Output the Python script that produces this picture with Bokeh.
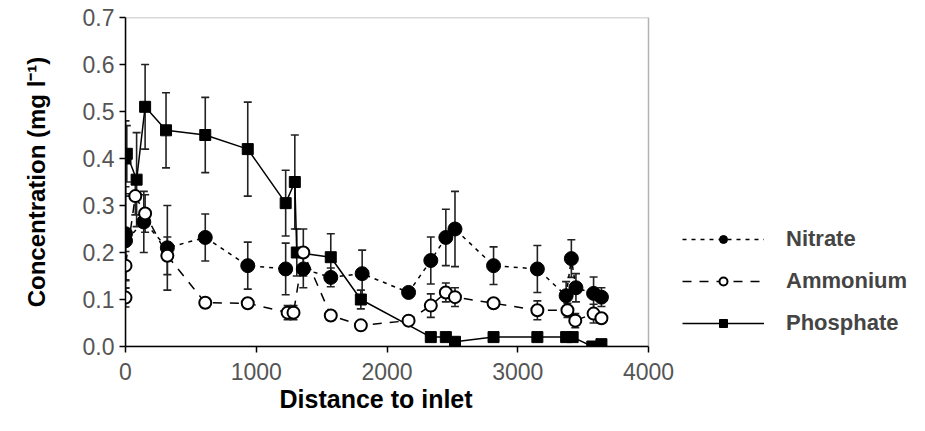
from bokeh.plotting import figure
from bokeh.models import (ColumnDataSource, Whisker, TeeHead, Legend, LegendItem,
                          Range1d, FixedTicker, NumeralTickFormatter, BoxAnnotation, Title)
from bokeh.embed import file_html
from bokeh.resources import INLINE

# ---------------- data ----------------
nitrate_x = [0, 0, 140, 320, 610, 935, 1225, 1360, 1570, 1810, 2165, 2335, 2450, 2520,
             2815, 3150, 3370, 3410, 3445, 3580, 3640]
nitrate_y = [0.24, 0.225, 0.265, 0.21, 0.232, 0.172, 0.165, 0.165, 0.147, 0.155, 0.115,
             0.183, 0.232, 0.25, 0.172, 0.165, 0.108, 0.187, 0.125, 0.113, 0.105]
nitrate_err = [0.10, 0.10, 0.065, 0.09, 0.05, 0.05, 0.055, 0.04, 0.02, 0.05, 0.01,
               0.05, 0.06, 0.08, 0.04, 0.05, 0.03, 0.04, 0.03, 0.035, 0.02]

ammonium_x = [0, 0, 75, 150, 320, 610, 935, 1240, 1285, 1360, 1570, 1800, 2165, 2335,
              2450, 2520, 2815, 3150, 3380, 3440, 3580, 3640]
ammonium_y = [0.104, 0.172, 0.32, 0.283, 0.193, 0.093, 0.092, 0.072, 0.072, 0.20, 0.066,
              0.045, 0.055, 0.087, 0.115, 0.105, 0.092, 0.077, 0.077, 0.055, 0.07, 0.06]
ammonium_err = [0.02, 0.03, 0.04, 0.04, 0.04, 0.01, 0.01, 0.015, 0.015, 0.05, 0.005,
                0.005, 0.01, 0.025, 0.02, 0.02, 0.005, 0.02, 0.015, 0.015, 0.02, 0.01]

phosphate_x = [0, 10, 85, 150, 310, 610, 935, 1225, 1295, 1310, 1570, 1800, 2335, 2450,
               2520, 2815, 3150, 3370, 3420, 3570, 3640]
phosphate_y = [0.40, 0.41, 0.355, 0.51, 0.46, 0.45, 0.42, 0.305, 0.35, 0.20, 0.19, 0.10,
               0.02, 0.02, 0.01, 0.02, 0.02, 0.02, 0.02, 0.0, 0.005]
phosphate_err = [0.08, 0.06, 0.10, 0.09, 0.08, 0.08, 0.10, 0.07, 0.10, 0.05, 0.05, 0.02,
                 0.005, 0.005, 0.005, 0.005, 0.005, 0.005, 0.005, 0.005, 0.005]

x_ticks = [0, 1000, 2000, 3000, 4000]
y_ticks = [0.0, 0.1, 0.2, 0.3, 0.4, 0.5, 0.6, 0.7]
series_labels = ["Nitrate", "Ammonium", "Phosphate"]
x_title = "Distance to inlet"
y_title = "Concentration (mg l\u207b\u00b9)"

X_MIN, X_MAX = 0, 4000
Y_MIN, Y_MAX = 0.0, 0.7

# ---------------- layout (pixels) ----------------
W, H = 909, 415
LEFT, TOP, BOTTOM = 125, 17, 69
PLOT_PX = 523                       # width of the boxed plot area
FRAME_PX = W - LEFT                 # frame extends under the legend
x_end = X_MAX * FRAME_PX / PLOT_PX

p = figure(width=W, height=H, output_backend="svg", toolbar_location=None,
           x_range=Range1d(X_MIN, x_end), y_range=Range1d(Y_MIN, Y_MAX),
           min_border_left=LEFT, min_border_right=0, min_border_top=TOP,
           min_border_bottom=BOTTOM)
p.xgrid.visible = False
p.ygrid.visible = False
p.outline_line_color = None
p.background_fill_color = "white"
p.border_fill_color = "white"

# box around the data area
p.add_layout(BoxAnnotation(left=X_MIN, right=X_MAX, bottom=Y_MIN, top=Y_MAX,
                           fill_alpha=0, line_color="black", line_width=1.5,
                           level="underlay"))

p.xaxis.ticker = FixedTicker(ticks=x_ticks)
p.xaxis.bounds = (X_MIN, X_MAX)
p.yaxis.ticker = FixedTicker(ticks=y_ticks)
p.yaxis.formatter = NumeralTickFormatter(format="0.0")
for ax in (p.xaxis, p.yaxis):
    ax.minor_tick_line_color = None
    ax.major_tick_in = 0
    ax.major_tick_out = 6
    ax.major_tick_line_width = 1.5
    ax.axis_line_width = 1.5
    ax.axis_line_color = "black"
    ax.major_tick_line_color = "black"
    ax.major_label_text_font = "Liberation Sans"
    ax.major_label_text_font_size = "23px"
    ax.major_label_text_color = "#555555"
    ax.axis_label_text_font = "Liberation Sans"
    ax.axis_label_text_font_style = "bold"
    ax.axis_label_text_color = "black"

p.yaxis.axis_label = y_title
p.yaxis.axis_label_text_font_size = "24px"
p.xaxis.major_label_standoff = 10
p.yaxis.major_label_standoff = 5
p.yaxis.axis_label_standoff = 30

# x-axis title, centred under the boxed area (not the whole frame)
p.add_layout(Title(text=x_title, align="left", offset=154, standoff=0,
                   text_font="Liberation Sans", text_font_size="25px",
                   text_font_style="bold", text_color="black"), "below")

# ---------------- error bars ----------------
def add_err(xs, ys, es):
    src = ColumnDataSource(dict(x=xs, upper=[y + e for y, e in zip(ys, es)],
                                lower=[max(y - e, 0) for y, e in zip(ys, es)]))
    w = Whisker(source=src, base="x", upper="upper", lower="lower",
                line_color="#222222", line_width=1.6,
                upper_head=TeeHead(size=8, line_color="#222222", line_width=1.6),
                lower_head=TeeHead(size=8, line_color="#222222", line_width=1.6))
    p.add_layout(w)

add_err(phosphate_x, phosphate_y, phosphate_err)
add_err(nitrate_x, nitrate_y, nitrate_err)
add_err(ammonium_x, ammonium_y, ammonium_err)

# ---------------- series ----------------
ln_n = p.line(nitrate_x, nitrate_y, line_color="black", line_width=1.5, line_dash="4 5")
ln_a = p.line(ammonium_x, ammonium_y, line_color="black", line_width=1.5, line_dash="9 8")
ln_p = p.line(phosphate_x, phosphate_y, line_color="black", line_width=1.5)

sc_n = p.scatter(nitrate_x, nitrate_y, marker="circle", size=14,
                 fill_color="black", line_color="black")
sc_p = p.scatter(phosphate_x, phosphate_y, marker="square", size=11,
                 fill_color="black", line_color="black")
sc_a = p.scatter(ammonium_x, ammonium_y, marker="circle", size=12,
                 fill_color="white", line_color="black", line_width=2)

legend = Legend(items=[LegendItem(label=series_labels[0], renderers=[ln_n, sc_n]),
                       LegendItem(label=series_labels[1], renderers=[ln_a, sc_a]),
                       LegendItem(label=series_labels[2], renderers=[ln_p, sc_p])],
                location=(557, 10), margin=0, padding=0,
                glyph_width=82, glyph_height=20, label_height=20, spacing=16,
                label_standoff=22, label_text_font="Liberation Sans",
                label_text_font_size="22px", label_text_font_style="bold",
                border_line_alpha=0, background_fill_alpha=0)
p.add_layout(legend)

open("out.html", "w").write(file_html(p, INLINE))
